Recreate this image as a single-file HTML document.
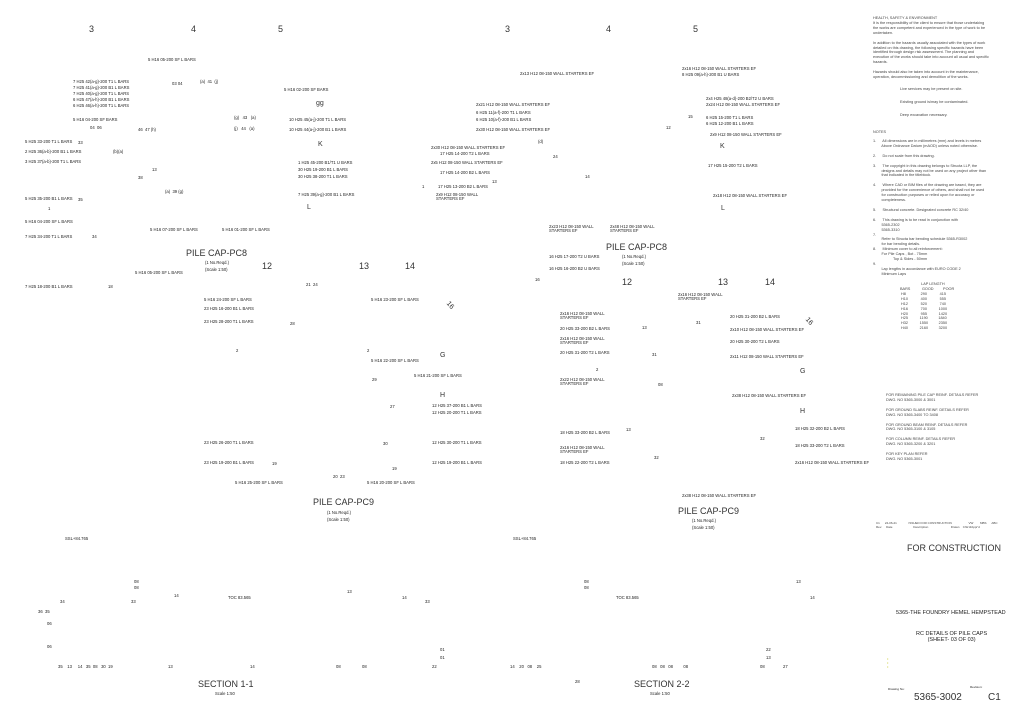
<!DOCTYPE html>
<html><head><meta charset="utf-8"><style>
body{margin:0;width:1024px;height:723px;background:#fff;position:relative;overflow:hidden;font-family:"Liberation Sans",sans-serif;color:#222}
.t{position:absolute;font-size:4.2px;white-space:nowrap;line-height:1}
.b{position:absolute;font-size:9px;white-space:nowrap;line-height:1;color:#333}
.m{position:absolute;font-size:7px;white-space:nowrap;line-height:1;color:#333}
.p{position:absolute;font-size:3.8px;white-space:pre;line-height:1.3;color:#444}
</style></head><body>
<!-- column numbers -->
<div class="b" style="left:89px;top:25px">3</div><div class="b" style="left:191px;top:25px">4</div><div class="b" style="left:278px;top:25px">5</div>
<div class="b" style="left:505px;top:25px">3</div><div class="b" style="left:606px;top:25px">4</div><div class="b" style="left:693px;top:25px">5</div>
<div class="b" style="left:262px;top:262px">12</div><div class="b" style="left:359px;top:262px">13</div><div class="b" style="left:405px;top:262px">14</div>
<div class="b" style="left:622px;top:278px">12</div><div class="b" style="left:718px;top:278px">13</div><div class="b" style="left:765px;top:278px">14</div>
<div class="m" style="left:316px;top:100px">gg</div><div class="m" style="left:318px;top:141px">K</div><div class="m" style="left:307px;top:204px">L</div>
<div class="m" style="left:720px;top:143px">K</div><div class="m" style="left:721px;top:205px">L</div>
<div class="m" style="left:446px;top:302px;transform:rotate(50deg)">16</div><div class="m" style="left:440px;top:352px">G</div><div class="m" style="left:440px;top:392px">H</div>
<div class="m" style="left:805px;top:318px;transform:rotate(50deg)">16</div><div class="m" style="left:800px;top:368px">G</div><div class="m" style="left:800px;top:408px">H</div>
<div class="b" style="left:186px;top:249px">PILE CAP-PC8</div><div class="t" style="left:205px;top:261px">(1 No.Reqd.)</div><div class="t" style="left:205px;top:268px">(Scale 1:50)</div>
<div class="b" style="left:606px;top:243px">PILE CAP-PC8</div><div class="t" style="left:622px;top:255px">(1 No.Reqd.)</div><div class="t" style="left:622px;top:262px">(Scale 1:50)</div>
<div class="b" style="left:313px;top:498px">PILE CAP-PC9</div><div class="t" style="left:327px;top:511px">(1 No.Reqd.)</div><div class="t" style="left:327px;top:518px">(Scale 1:50)</div>
<div class="b" style="left:678px;top:507px">PILE CAP-PC9</div><div class="t" style="left:692px;top:519px">(1 No.Reqd.)</div><div class="t" style="left:692px;top:526px">(Scale 1:50)</div>
<div class="b" style="left:198px;top:680px">SECTION 1-1</div><div class="t" style="left:215px;top:692px">Scale 1:50</div>
<div class="b" style="left:634px;top:680px">SECTION 2-2</div><div class="t" style="left:650px;top:692px">Scale 1:50</div>
<!-- left PC8 labels -->
<div class="t" style="left:148px;top:58px">5 H16 05-200 SF L BARS</div>
<div class="t" style="left:73px;top:80px">7 H25 42(a-g)-200 T1 L BARS</div>
<div class="t" style="left:73px;top:86px">7 H25 41(a-g)-200 B1 L BARS</div>
<div class="t" style="left:73px;top:92px">7 H25 40(a-g)-200 T1 L BARS</div>
<div class="t" style="left:73px;top:98px">6 H25 47(a-h)-200 B1 L BARS</div>
<div class="t" style="left:73px;top:104px">6 H25 46(a-h)-200 T1 L BARS</div>
<div class="t" style="left:73px;top:118px">5 H16 04-200 SF BARS</div>
<div class="t" style="left:284px;top:88px">5 H16 02-200 SF BARS</div>
<div class="t" style="left:289px;top:118px">10 H25 45(a-j)-200 T1 L BARS</div>
<div class="t" style="left:289px;top:128px">10 H25 44(a-j)-200 B1 L BARS</div>
<div class="t" style="left:25px;top:140px">5 H25 33-200 T1 L BARS</div>
<div class="t" style="left:25px;top:150px">2 H25 36(a-b)-200 B1 L BARS</div>
<div class="t" style="left:25px;top:160px">3 H25 37(a-b)-200 T1 L BARS</div>
<div class="t" style="left:298px;top:161px">1 H25 45-200 B1/T1 U BARS</div>
<div class="t" style="left:298px;top:168px">30 H25 19-200 B1 L BARS</div>
<div class="t" style="left:298px;top:175px">30 H25 38-200 T1 L BARS</div>
<div class="t" style="left:298px;top:193px">7 H25 39(a-g)-200 B1 L BARS</div>
<div class="t" style="left:25px;top:197px">5 H25 35-200 B1 L BARS</div>
<div class="t" style="left:25px;top:220px">5 H16 04-200 SF L BARS</div>
<div class="t" style="left:25px;top:235px">7 H25 34-200 T1 L BARS</div>
<div class="t" style="left:150px;top:228px">5 H16 07-200 SF L BARS</div>
<div class="t" style="left:222px;top:228px">5 H16 01-200 SF L BARS</div>
<div class="t" style="left:135px;top:271px">5 H16 05-200 SF L BARS</div>
<div class="t" style="left:25px;top:285px">7 H25 18-200 B1 L BARS</div>
<!-- left PC9 -->
<div class="t" style="left:204px;top:298px">5 H16 24-200 SF L BARS</div>
<div class="t" style="left:204px;top:307px">23 H25 16-200 B1 L BARS</div>
<div class="t" style="left:204px;top:320px">23 H25 28-200 T1 L BARS</div>
<div class="t" style="left:371px;top:298px">5 H16 23-200 SF L BARS</div>
<div class="t" style="left:371px;top:359px">5 H16 22-200 SF L BARS</div>
<div class="t" style="left:414px;top:374px">5 H16 21-200 SF L BARS</div>
<div class="t" style="left:432px;top:404px">12 H25 37-200 B1 L BARS</div>
<div class="t" style="left:432px;top:411px">12 H25 20-200 T1 L BARS</div>
<div class="t" style="left:432px;top:441px">12 H25 30-200 T1 L BARS</div>
<div class="t" style="left:432px;top:461px">12 H25 19-200 B1 L BARS</div>
<div class="t" style="left:204px;top:441px">23 H25 26-200 T1 L BARS</div>
<div class="t" style="left:204px;top:461px">23 H25 19-200 B1 L BARS</div>
<div class="t" style="left:235px;top:481px">5 H16 25-200 SF L BARS</div>
<div class="t" style="left:367px;top:481px">5 H16 20-200 SF L BARS</div>
<!-- right PC8 -->
<div class="t" style="left:520px;top:72px">2x13 H12 08-150 WALL STARTERS EF</div>
<div class="t" style="left:682px;top:67px">2x16 H12 08-150 WALL STARTERS EF</div>
<div class="t" style="left:682px;top:73px">8 H25 09(a-h)-200 B1 U BARS</div>
<div class="t" style="left:476px;top:103px">2x21 H12 08-150 WALL STARTERS EF</div>
<div class="t" style="left:476px;top:111px">6 H25 11(a-f)-200 T1 L BARS</div>
<div class="t" style="left:476px;top:118px">6 H25 10(a-f)-200 B1 L BARS</div>
<div class="t" style="left:476px;top:128px">2x30 H12 08-150 WALL STARTERS EF</div>
<div class="t" style="left:706px;top:97px">2x4 H25 48(a-d)-200 B2/T2 U BARS</div>
<div class="t" style="left:706px;top:103px">2x24 H12 08-150 WALL STARTERS EF</div>
<div class="t" style="left:706px;top:116px">6 H25 15-200 T1 L BARS</div>
<div class="t" style="left:706px;top:122px">6 H25 12-200 B1 L BARS</div>
<div class="t" style="left:710px;top:133px">2x9 H12 08-150 WALL STARTERS EF</div>
<div class="t" style="left:431px;top:146px">2x30 H12 08-150 WALL STARTERS EF</div>
<div class="t" style="left:440px;top:152px">17 H25 14-200 T2 L BARS</div>
<div class="t" style="left:431px;top:161px">2x5 H12 08-150 WALL STARTERS EF</div>
<div class="t" style="left:440px;top:171px">17 H25 14-200 B2 L BARS</div>
<div class="t" style="left:708px;top:164px">17 H25 15-200 T2 L BARS</div>
<div class="t" style="left:438px;top:185px">17 H25 13-200 B2 L BARS</div>
<div class="t" style="left:436px;top:193px">2x9 H12 08-150 WALL<br>STARTERS EF</div>
<div class="t" style="left:713px;top:194px">2x18 H12 08-150 WALL STARTERS EF</div>
<div class="t" style="left:549px;top:225px">2x23 H12 08-150 WALL<br>STARTERS EF</div>
<div class="t" style="left:610px;top:225px">2x48 H12 08-150 WALL<br>STARTERS EF</div>
<div class="t" style="left:549px;top:255px">16 H25 17-200 T2 U BARS</div>
<div class="t" style="left:549px;top:267px">16 H25 16-200 B2 U BARS</div>
<!-- right PC9 -->
<div class="t" style="left:678px;top:293px">2x16 H12 08-150 WALL<br>STARTERS EF</div>
<div class="t" style="left:560px;top:312px">2x16 H12 08-150 WALL<br>STARTERS EF</div>
<div class="t" style="left:560px;top:327px">20 H25 33-200 B2 L BARS</div>
<div class="t" style="left:560px;top:337px">2x16 H12 08-150 WALL<br>STARTERS EF</div>
<div class="t" style="left:560px;top:351px">20 H25 31-200 T2 L BARS</div>
<div class="t" style="left:730px;top:315px">20 H25 31-200 B2 L BARS</div>
<div class="t" style="left:730px;top:328px">2x10 H12 08-150 WALL STARTERS EF</div>
<div class="t" style="left:730px;top:340px">20 H25 30-200 T2 L BARS</div>
<div class="t" style="left:730px;top:355px">2x11 H12 08-150 WALL STARTERS EF</div>
<div class="t" style="left:560px;top:378px">2x22 H12 08-150 WALL<br>STARTERS EF</div>
<div class="t" style="left:732px;top:394px">2x38 H12 08-150 WALL STARTERS EF</div>
<div class="t" style="left:560px;top:431px">18 H25 33-200 B2 L BARS</div>
<div class="t" style="left:560px;top:446px">2x16 H12 08-150 WALL<br>STARTERS EF</div>
<div class="t" style="left:560px;top:461px">18 H25 22-200 T2 L BARS</div>
<div class="t" style="left:795px;top:427px">18 H25 32-200 B2 L BARS</div>
<div class="t" style="left:795px;top:444px">18 H25 33-200 T2 L BARS</div>
<div class="t" style="left:795px;top:461px">2x16 H12 08-150 WALL STARTERS EF</div>
<div class="t" style="left:682px;top:494px">2x38 H12 08-150 WALL STARTERS EF</div>
<!-- misc small numbers -->
<div class="t" style="left:172px;top:82px">03 04</div><div class="t" style="left:200px;top:80px">(a) &nbsp;41 &nbsp;(j)</div>
<div class="t" style="left:234px;top:116px">(g) &nbsp;&nbsp;43 &nbsp;&nbsp;(a)</div><div class="t" style="left:234px;top:127px">(j) &nbsp;&nbsp;44 &nbsp;&nbsp;(a)</div>
<div class="t" style="left:90px;top:126px">04 &nbsp;06</div><div class="t" style="left:138px;top:128px">46 &nbsp;47 (h)</div>
<div class="t" style="left:78px;top:141px">33</div><div class="t" style="left:113px;top:150px">(b)(a)</div><div class="t" style="left:152px;top:168px">13</div><div class="t" style="left:138px;top:176px">38</div>
<div class="t" style="left:165px;top:190px">(a) &nbsp;39 (g)</div><div class="t" style="left:78px;top:198px">35</div><div class="t" style="left:48px;top:207px">1</div><div class="t" style="left:92px;top:235px">34</div>
<div class="t" style="left:108px;top:285px">18</div><div class="t" style="left:306px;top:283px">21 &nbsp;24</div><div class="t" style="left:290px;top:322px">28</div>
<div class="t" style="left:236px;top:349px">2</div><div class="t" style="left:367px;top:349px">2</div><div class="t" style="left:372px;top:378px">29</div><div class="t" style="left:390px;top:405px">27</div>
<div class="t" style="left:383px;top:442px">30</div><div class="t" style="left:272px;top:462px">19</div><div class="t" style="left:392px;top:467px">19</div><div class="t" style="left:333px;top:475px">20 &nbsp;23</div>
<div class="t" style="left:422px;top:185px">1</div><div class="t" style="left:492px;top:180px">13</div><div class="t" style="left:538px;top:140px">(d)</div><div class="t" style="left:553px;top:155px">24</div>
<div class="t" style="left:585px;top:175px">14</div><div class="t" style="left:666px;top:126px">12</div><div class="t" style="left:688px;top:115px">15</div><div class="t" style="left:535px;top:278px">16</div>
<div class="t" style="left:642px;top:326px">13</div><div class="t" style="left:696px;top:321px">31</div><div class="t" style="left:652px;top:353px">31</div><div class="t" style="left:596px;top:368px">2</div>
<div class="t" style="left:658px;top:383px">08</div><div class="t" style="left:626px;top:428px">13</div><div class="t" style="left:654px;top:456px">32</div><div class="t" style="left:760px;top:437px">32</div>
<!-- sections -->
<div class="t" style="left:65px;top:537px">SSL+84.765</div><div class="t" style="left:513px;top:537px">SSL+84.765</div>
<div class="t" style="left:228px;top:596px">TOC 83.565</div><div class="t" style="left:616px;top:596px">TOC 83.565</div>
<div class="t" style="left:60px;top:600px">34</div><div class="t" style="left:131px;top:600px">33</div><div class="t" style="left:174px;top:594px">14</div><div class="t" style="left:38px;top:610px">36 &nbsp;35</div>
<div class="t" style="left:47px;top:622px">06</div><div class="t" style="left:47px;top:645px">06</div><div class="t" style="left:58px;top:665px">35 &nbsp;&nbsp;&nbsp;13 &nbsp;&nbsp;&nbsp;&nbsp;14 &nbsp;&nbsp;35 &nbsp;08 &nbsp;&nbsp;30 &nbsp;19</div>
<div class="t" style="left:168px;top:665px">13</div><div class="t" style="left:250px;top:665px">14</div><div class="t" style="left:336px;top:665px">08</div><div class="t" style="left:362px;top:665px">08</div>
<div class="t" style="left:432px;top:665px">22</div><div class="t" style="left:440px;top:648px">01</div><div class="t" style="left:440px;top:656px">01</div><div class="t" style="left:347px;top:590px">13</div>
<div class="t" style="left:134px;top:580px">08</div><div class="t" style="left:134px;top:586px">08</div><div class="t" style="left:402px;top:596px">14</div><div class="t" style="left:425px;top:600px">33</div>
<div class="t" style="left:584px;top:580px">08</div><div class="t" style="left:584px;top:586px">08</div><div class="t" style="left:796px;top:580px">13</div><div class="t" style="left:810px;top:596px">14</div>
<div class="t" style="left:510px;top:665px">14 &nbsp;&nbsp;&nbsp;20 &nbsp;&nbsp;08 &nbsp;&nbsp;&nbsp;25</div><div class="t" style="left:652px;top:665px">08 &nbsp;&nbsp;08 &nbsp;&nbsp;08 &nbsp;&nbsp;&nbsp;&nbsp;&nbsp;&nbsp;&nbsp;&nbsp;08</div>
<div class="t" style="left:760px;top:665px">08</div><div class="t" style="left:783px;top:665px">27</div><div class="t" style="left:766px;top:648px">22</div><div class="t" style="left:766px;top:656px">13</div><div class="t" style="left:575px;top:680px">28</div>
<!-- title block -->
<div class="p" style="left:873px;top:16px">HEALTH, SAFETY &amp; ENVIRONMENT
It is the responsibility of the client to ensure that those undertaking
the works are competent and experienced in the type of work to be
undertaken.

In addition to the hazards usually associated with the types of work
detailed on this drawing, the following specific hazards have been
identified through design risk assessment. The planning and
execution of the works should take into account all usual and specific
hazards.

Hazards should also be taken into account in the maintenance,
operation, decommissioning and demolition of the works.</div>
<div class="p" style="left:900px;top:87px">Live services may be present on site.</div>
<div class="p" style="left:900px;top:100px">Existing ground is/may be contaminated.</div>
<div class="p" style="left:900px;top:113px">Deep excavation necessary.</div>
<div class="p" style="left:873px;top:130px">NOTES</div>
<div class="p" style="left:873px;top:139px">1.      All dimensions are in millimetres (mm) and levels in metres
        Above Ordnance Datum (mAOD) unless noted otherwise.

2.      Do not scale from this drawing.

3.      The copyright in this drawing belongs to Structa LLP, the
        designs and details may not be used on any project other than
        that indicated in the titleblock.

4.      Where CAD or BIM files of the drawing are based, they are
        provided for the convenience of others, and shall not be used
        for construction purposes or relied upon for accuracy or
        completeness.

5.      Structural concrete. Designated concrete RC 32/40

6.      This drawing is to be read in conjunction with
        5365-2302
        5365-3310
7.
        Refer to Structa bar bending schedule 5365-R3002
        for bar bending details.
8.      Minimum cover to all reinforcement:
        For Pile Caps , Bot - 75mm
                   Top &amp; Sides - 50mm
9.
        Lap lengths in accordance with EURO CODE 2
        Minimum Laps</div>
<div class="p" style="left:900px;top:282px">                    LAP LENGTH
BARS           GOOD         POOR
 H8              290            415
 H10            400            555
 H12            520            740
 H16            700           1000
 H20            955           1420
 H25           1190          1840
 H32           1550          2350
 H40           2160          3200</div>
<div class="p" style="left:886px;top:393px">FOR REMAINING PILE CAP REINF. DETAILS REFER
DWG. NO 5365-3000 &amp; 3001

FOR GROUND SLABS REINF. DETAILS REFER
DWG. NO 5365-3400 TO 3408

FOR GROUND BEAM REINF. DETAILS REFER
DWG. NO 5365-3100 &amp; 3105

FOR COLUMN REINF. DETAILS REFER
DWG. NO 5365-3200 &amp; 3201

FOR KEY PLAN REFER
DWG. NO 5365-3001</div>
<div class="p" style="left:876px;top:522px;font-size:3px">C1      24-06-21              ISSUED FOR CONSTRUCTION                    VW        MBS      ABC
Rev.     Date                         Description                           Drawn    Chk'd/Appr'd</div>
<div class="b" style="left:907px;top:544px">FOR CONSTRUCTION</div>
<div class="t" style="left:896px;top:611px;font-size:5.5px">5365-THE FOUNDRY HEMEL HEMPSTEAD</div>
<div class="t" style="left:916px;top:632px;font-size:5.5px;text-align:center">RC DETAILS OF PILE CAPS<br>(SHEET- 03 OF 03)</div>
<div class="t" style="left:887px;top:657px;color:#cc3;font-size:4px">•<br>•<br>•</div>
<div class="t" style="left:888px;top:688px;font-size:3px">Drawing No:</div><div class="t" style="left:970px;top:686px;font-size:3px">Revision:</div>
<div class="b" style="left:914px;top:693px;font-size:10px">5365-3002</div><div class="b" style="left:988px;top:693px;font-size:10px">C1</div>
</body></html>
